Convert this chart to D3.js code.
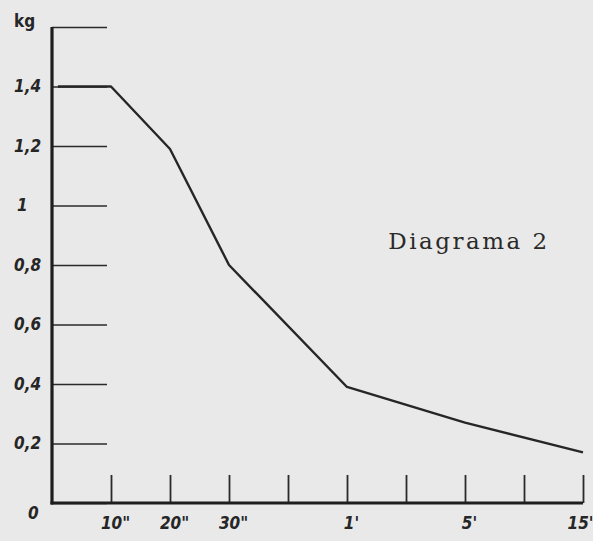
<!DOCTYPE html>
<html>
<head>
<meta charset="utf-8">
<script src="https://cdn.jsdelivr.net/npm/d3@7"></script>
<style>
  html, body { margin: 0; padding: 0; background: #e9e9e9; }
  .lbl { font-family: "Liberation Sans Narrow", "DejaVu Sans Condensed", sans-serif; font-style: italic; font-weight: bold; fill: #262626; }
</style>
</head>
<body>
<div id="chart"></div>
<script>
// x positions are evenly spaced steps; only some of them carry a label
var xSteps = [1, 2, 3, 4, 5, 6, 7, 8, 9];
var xLabels = ['10"', '20"', '30"', '', "1'", '', "5'", '', "15'"];

// y ticks (kg)
var yTicks = [0, 0.2, 0.4, 0.6, 0.8, 1, 1.2, 1.4, 1.6];
var yLabels = ["0", "0,2", "0,4", "0,6", "0,8", "1", "1,2", "1,4", "kg"];

// the curve
var curveX = [0.1, 1, 2, 3, 5, 7, 9];
var curveY = [1.4, 1.4, 1.19, 0.8, 0.39, 0.27, 0.17];

var W = 593, H = 541;
var svg = d3.select("#chart").append("svg")
    .attr("width", W)
    .attr("height", H);

svg.append("rect").attr("width", W).attr("height", H).attr("fill", "#e9e9e9");

var x = d3.scaleLinear().domain([0, 9]).range([52, 583]);
var y = d3.scaleLinear().domain([0, 1.6]).range([503, 27]);

// horizontal tick lines from the y axis
var yAxis = d3.axisLeft(y)
    .tickValues(yTicks)
    .tickSize(-55)
    .tickFormat(function(d, i) { return yLabels[i]; });

var gy = svg.append("g")
    .attr("transform", "translate(" + x(0) + ",0)")
    .call(yAxis);
gy.select(".domain").remove();
gy.selectAll(".tick line").attr("stroke", "#2a2a2a").attr("stroke-width", 1.6);
gy.selectAll(".tick text")
    .attr("class", "lbl")
    .attr("text-anchor", "start")
    .attr("x", function(d) { return d === 0 ? -24 : (d === 1 ? -35 : -38); })
    .attr("dy", function(d) { return d === 0 ? "0.9em" : (d === 1.6 ? "-0.05em" : "0.32em"); })
    .style("font-size", "17px")
    .style("font-style", d => d === 1.6 ? "normal" : "italic");

// vertical ticks on the baseline
var xAxis = d3.axisBottom(x)
    .tickValues(xSteps)
    .tickSize(-28)
    .tickFormat(function(d, i) { return xLabels[i]; });

var gx = svg.append("g")
    .attr("transform", "translate(0," + y(0) + ")")
    .call(xAxis);
gx.select(".domain").remove();
gx.selectAll(".tick line").attr("stroke", "#2a2a2a").attr("stroke-width", 1.8);
gx.selectAll(".tick text")
    .attr("class", "lbl")
    .attr("x", function(d) { return d === 9 ? -3 : 4; })
    .attr("y", 14)
    .attr("dy", "0.71em")
    .style("font-size", "17px");

// thick axes
svg.append("line")
    .attr("x1", x(0)).attr("x2", x(0))
    .attr("y1", y(1.6)).attr("y2", y(0) + 1.5)
    .attr("stroke", "#1e1e1e").attr("stroke-width", 3.2);
svg.append("line")
    .attr("x1", x(0) - 1.5).attr("x2", x(9))
    .attr("y1", y(0)).attr("y2", y(0))
    .attr("stroke", "#1e1e1e").attr("stroke-width", 3.2);

// the curve
var pts = curveX.map(function(d, i) { return [d, curveY[i]]; });
var line = d3.line()
    .x(function(d) { return x(d[0]); })
    .y(function(d) { return y(d[1]); });

svg.append("path")
    .datum(pts)
    .attr("d", line)
    .attr("fill", "none")
    .attr("stroke", "#262626")
    .attr("stroke-width", 2.4)
    .attr("stroke-linejoin", "round");

svg.append("text")
    .attr("x", 469)
    .attr("y", 249)
    .attr("text-anchor", "middle")
    .attr("font-family", "DejaVu Serif, Liberation Serif, serif")
    .attr("font-size", 23)
    .attr("letter-spacing", 2.5)
    .attr("fill", "#2a2a2a")
    .text("Diagrama 2");
</script>
</body>
</html>
